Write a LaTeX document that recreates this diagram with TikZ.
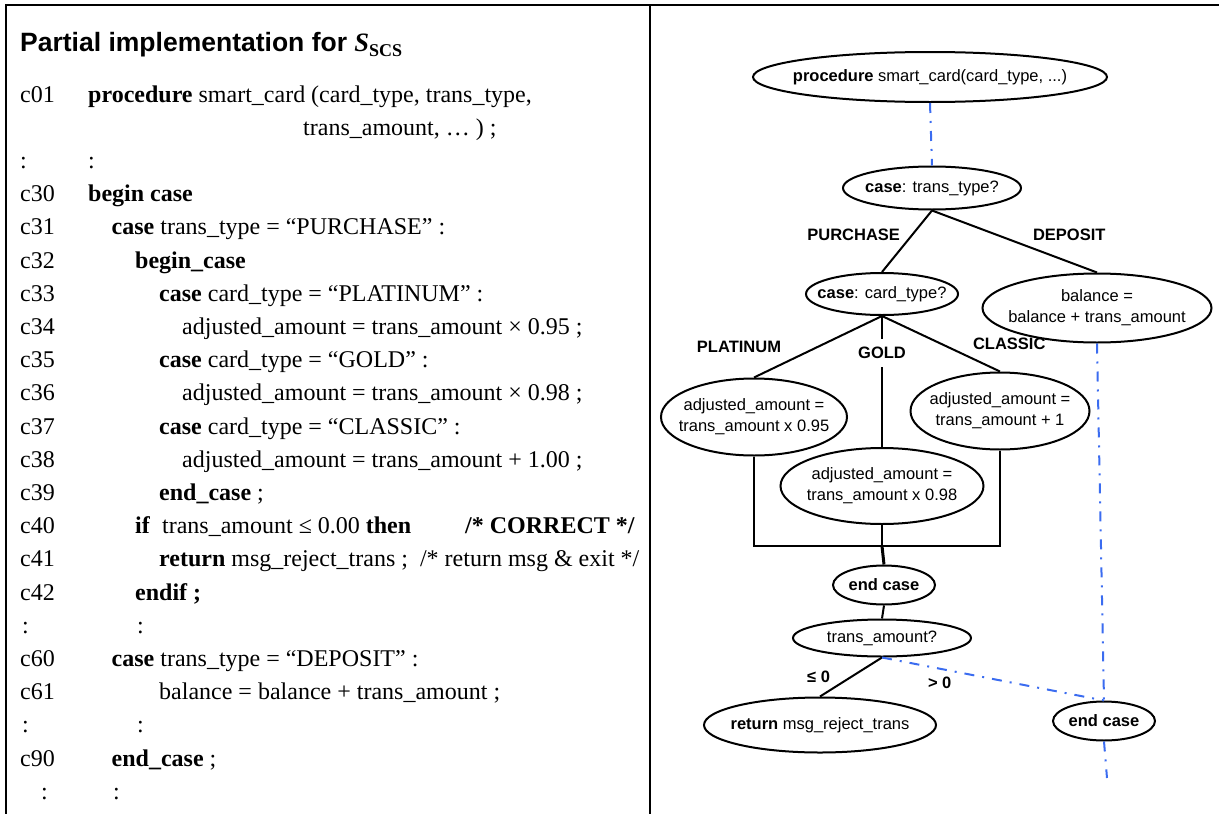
\documentclass[tikz,border=0pt]{standalone}
\usepackage{fontspec}
\setmainfont{Liberation Serif}
\setsansfont{Liberation Sans}
\usetikzlibrary{shapes.geometric}

\definecolor{flowblue}{RGB}{59,108,240}

\begin{document}
\begin{tikzpicture}[x=1pt, y=-1pt,
    frame/.style={line width=2pt},
    title/.style={anchor=base west, inner sep=0pt, font=\sffamily\bfseries\fontsize{26.5}{26.5}\selectfont},
    code/.style={anchor=base west, inner sep=0pt, font=\fontsize{24}{24}\selectfont},
    state/.style={ellipse, draw, line width=2pt, inner xsep=-15pt, inner ysep=0pt, align=center,
        font=\sffamily\fontsize{16.5}{21}\selectfont},
    branch/.style={line width=2pt},
    flow/.style={flowblue, line width=2pt, dash pattern=on 10pt off 8pt on 2pt off 8pt},
    lbl/.style={font=\sffamily\bfseries\fontsize{16.5}{20}\selectfont, inner sep=1pt}
]
    \useasboundingbox (0,0) rectangle (1219,814);
    % Table frame
    \draw[frame] (6,814) -- (6,5) -- (1219,5);
    \draw[frame] (650,5) -- (650,814);

    % Left column: the code listing
    \node[title] (head) at (20,51) {Partial implementation for
        {\rmfamily\itshape S}\raisebox{-5pt}{\rmfamily\fontsize{18}{18}\selectfont SCS}};

    \node[code] (n01) at (20,102) {c01};
    \node[code] (t01) at (88,102) {\textbf{procedure} smart\_card (card\_type, trans\_type,};
    \node[code] (t01b) at (303,135.2) {trans\_amount, … ) ;};
    \node[code] (d1) at (20,168.4) {:};
    \node[code] (d1b) at (88,168.4) {:};
    \node[code] (n30) at (20,201.6) {c30};
    \node[code] (t30) at (88,201.6) {\textbf{begin case}};
    \node[code] (n31) at (20,234.8) {c31};
    \node[code] (t31) at (111.5,234.8) {\textbf{case} trans\_type = “PURCHASE” :};
    \node[code] (n32) at (20,268) {c32};
    \node[code] (t32) at (135,268) {\textbf{begin\_case}};
    \node[code] (n33) at (20,301.2) {c33};
    \node[code] (t33) at (159,301.2) {\textbf{case} card\_type = “PLATINUM” :};
    \node[code] (n34) at (20,334.4) {c34};
    \node[code] (t34) at (182,334.4) {adjusted\_amount = trans\_amount × 0.95 ;};
    \node[code] (n35) at (20,367.6) {c35};
    \node[code] (t35) at (159,367.6) {\textbf{case} card\_type = “GOLD” :};
    \node[code] (n36) at (20,400.8) {c36};
    \node[code] (t36) at (182,400.8) {adjusted\_amount = trans\_amount × 0.98 ;};
    \node[code] (n37) at (20,434) {c37};
    \node[code] (t37) at (159,434) {\textbf{case} card\_type = “CLASSIC” :};
    \node[code] (n38) at (20,467.2) {c38};
    \node[code] (t38) at (182,467.2) {adjusted\_amount = trans\_amount + 1.00 ;};
    \node[code] (n39) at (20,500.4) {c39};
    \node[code] (t39) at (159,500.4) {\textbf{end\_case} ;};
    \node[code] (n40) at (20,533.6) {c40};
    \node[code] (t40) at (135,533.6) {\textbf{if}\ \ trans\_amount ≤ 0.00 \textbf{then}};
    \node[code] (t40b) at (465,533.6) {\textbf{/* CORRECT */}};
    \node[code] (n41) at (20,566.8) {c41};
    \node[code] (t41) at (159,566.8) {\textbf{return} msg\_reject\_trans ;\ \ /* return msg \& exit */};
    \node[code] (n42) at (20,600) {c42};
    \node[code] (t42) at (135,600) {\textbf{endif ;}};
    \node[code] (d2) at (22,633.2) {:};
    \node[code] (d2b) at (137,633.2) {:};
    \node[code] (n60) at (20,666.4) {c60};
    \node[code] (t60) at (111.5,666.4) {\textbf{case} trans\_type = “DEPOSIT” :};
    \node[code] (n61) at (20,699.6) {c61};
    \node[code] (t61) at (159,699.6) {balance = balance + trans\_amount ;};
    \node[code] (d3) at (22,732.8) {:};
    \node[code] (d3b) at (137,732.8) {:};
    \node[code] (n90) at (20,766) {c90};
    \node[code] (t90) at (111.5,766) {\textbf{end\_case} ;};
    \node[code] (d4) at (41,799.2) {:};
    \node[code] (d4b) at (113,799.2) {:};

    % Right column: the flow graph
    \node[state, minimum width=354pt, minimum height=50pt] (proc) at (930,77)
        {\textbf{procedure} smart\_card(card\_type, ...)};
    \node[state, minimum width=178pt, minimum height=43pt] (ttype) at (932,188)
        {\textbf{case}: trans\_type?};
    \node[state, minimum width=152pt, minimum height=42pt] (ctype) at (882,294)
        {\textbf{case}: card\_type?};
    \node[state, minimum width=229pt, minimum height=69pt] (bal) at (1097,308)
        {balance =\\balance + trans\_amount};
    \node[state, minimum width=186pt, minimum height=77pt] (plat) at (754,417)
        {adjusted\_amount =\\trans\_amount x 0.95};
    \node[state, minimum width=179pt, minimum height=77pt] (classic) at (1000,411)
        {adjusted\_amount =\\trans\_amount + 1};
    \node[state, minimum width=203pt, minimum height=76pt] (gold) at (882,486)
        {adjusted\_amount =\\trans\_amount x 0.98};
    \coordinate (join) at (882,546);
    \node[state, minimum width=102pt, minimum height=39pt] (endA) at (884,585)
        {\textbf{end case}};
    \node[state, minimum width=178pt, minimum height=37pt] (amt) at (882,638)
        {trans\_amount?};
    \node[state, minimum width=232pt, minimum height=55pt] (ret) at (820,725)
        {\textbf{return} msg\_reject\_trans};
    \node[state, minimum width=102pt, minimum height=39pt] (endB) at (1104,721)
        {\textbf{end case}};
    \coordinate (tail) at (1107,778);

    % Branches taken
    \draw[branch] (ttype.south) -- node[lbl, pos=0.4, left=10pt] {PURCHASE} (ctype.north);
    \draw[branch] (ttype.south) -- node[lbl, pos=0.4, right=33pt] {DEPOSIT} (bal.north);
    \draw[branch] (ctype.south) -- node[lbl, midway, left=35pt] {PLATINUM} (plat.north);
    \draw[branch] (ctype.south) -- node[lbl, pos=0.28, fill=white, inner ysep=8pt] {GOLD} (gold.north);
    \draw[branch] (ctype.south) -- node[lbl, midway, right=30pt] {CLASSIC} (classic.north);
    \draw[branch] (plat.south) |- (join) -| (classic.south);
    \draw[branch] (gold.south) -- (join);
    \draw[branch, line width=3pt] (join) -- (endA.north);
    \draw[branch] (endA.south) -- (amt.north);
    \draw[branch] (amt.south) -- node[lbl, midway, left=19pt] {≤ 0} (ret.north);

    % Path not covered (dash-dot)
    \draw[flow] (proc.south) -- (ttype.north);
    \draw[flow] (bal.south) -- (endB.north);
    \draw[flow] (amt.south) -- node[lbl, pos=0.26, below=6pt, text=black] {> 0} (endB.north);
    \draw[flow] (endB.south) -- (tail);
\end{tikzpicture}
\end{document}
